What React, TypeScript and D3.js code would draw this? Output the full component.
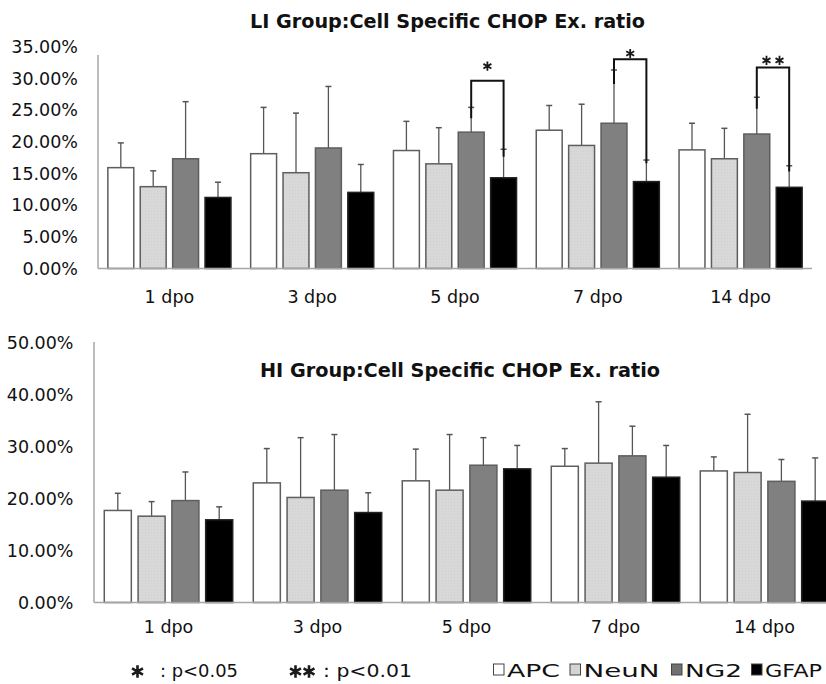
import React from "react";
import * as d3 from "d3";

// groups and series
const days = ["1 dpo", "3 dpo", "5 dpo", "7 dpo", "14 dpo"];
const cells = ["APC", "NeuN", "NG2", "GFAP"];

// LI group, mean (%) and upper SD (%)
const liAPC = [15.9, 18.1, 18.6, 21.8, 18.7];
const liNeuN = [12.9, 15.1, 16.5, 19.4, 17.3];
const liNG2 = [17.3, 19.0, 21.5, 22.9, 21.2];
const liGFAP = [11.2, 12.0, 14.3, 13.7, 12.8];
const liAPCsd = [3.9, 7.3, 4.6, 3.9, 4.2];
const liNeuNsd = [2.5, 9.4, 5.7, 6.5, 4.8];
const liNG2sd = [9.0, 9.7, 3.9, 8.4, 5.8];
const liGFAPsd = [2.4, 4.4, 4.5, 3.4, 3.4];

// HI group
const hiAPC = [17.7, 23.0, 23.4, 26.2, 25.3];
const hiNeuN = [16.6, 20.2, 21.6, 26.8, 25.0];
const hiNG2 = [19.6, 21.6, 26.4, 28.2, 23.3];
const hiGFAP = [15.9, 17.3, 25.7, 24.1, 19.5];
const hiAPCsd = [3.3, 6.6, 6.1, 3.4, 2.7];
const hiNeuNsd = [2.8, 11.5, 10.7, 11.8, 11.2];
const hiNG2sd = [5.5, 10.7, 5.3, 5.7, 4.2];
const hiGFAPsd = [2.5, 3.8, 4.5, 6.1, 8.3];

const liTicks = [0, 5, 10, 15, 20, 25, 30, 35];
const hiTicks = [0, 10, 20, 30, 40, 50];

// significance brackets on LI chart (values in %)
const liSig = [
  { day: "5 dpo", from: "NG2", to: "GFAP", top: 29.6, left: 23.7, right: 17.6, star: 31.9, n: 1 },
  { day: "7 dpo", from: "NG2", to: "GFAP", top: 33.0, left: 29.1, right: 16.6, star: 33.9, n: 1 },
  { day: "14 dpo", from: "NG2", to: "GFAP", top: 31.7, left: 25.2, right: 15.3, star: 32.8, n: 2 },
];

const fills: Record<string, string> = { APC: "#ffffff", NeuN: "url(#stipple)", NG2: "#808080", GFAP: "#000000" };
const legendFills: Record<string, string> = { APC: "#ffffff", NeuN: "#d4d4d4", NG2: "#707070", GFAP: "#000000" };

const font = "'DejaVu Sans', sans-serif";

const Star = ({ cx, cy, r, w = 1.8 }: { cx: number; cy: number; r: number; w?: number }) => {
  const arms = [90, 30, 150].map((a) => {
    const t = (a * Math.PI) / 180;
    return `M${cx - r * Math.cos(t)},${cy - r * Math.sin(t)}L${cx + r * Math.cos(t)},${cy + r * Math.sin(t)}`;
  });
  return <path d={arms.join("")} stroke="#1a1a1a" strokeWidth={w} fill="none" />;
};

function Panel({ series, sds, ticks, xRange, yRange, labelRight, xLabelY, axisTop, sig }: any) {
  const x = d3.scaleBand().domain(days).range(xRange).paddingInner(0.138).paddingOuter(0.069);
  const xi = d3.scaleBand().domain(cells).range([0, x.bandwidth()]).paddingInner(0.2);
  const y = d3.scaleLinear().domain([0, d3.max(ticks) as number]).range(yRange);
  const fmt = d3.format(".2%");
  const cx = (day: string, cell: string) => (x(day) as number) + (xi(cell) as number) + xi.bandwidth() / 2;

  return (
    <g>
      {ticks.map((t: number) => (
        <text key={t} x={labelRight} y={y(t)} dy="0.36em" textAnchor="end" fontSize={17.5} fill="#111">
          {fmt(t / 100)}
        </text>
      ))}
      <line x1={xRange[0]} x2={xRange[0]} y1={axisTop} y2={y(0)} stroke="#a6a6a6" strokeWidth={1.5} />
      {cells.map((cell, ci) =>
        days.map((day, di) => {
          const v = series[ci][di];
          const e = v + sds[ci][di];
          const bx = (x(day) as number) + (xi(cell) as number);
          const c = cx(day, cell);
          return (
            <g key={cell + day}>
              <line x1={c} x2={c} y1={y(v)} y2={y(e)} stroke="#555" strokeWidth={1.3} />
              <line x1={c - 3} x2={c + 3} y1={y(e)} y2={y(e)} stroke="#555" strokeWidth={1.5} />
              <rect x={bx} y={y(v)} width={xi.bandwidth()} height={y(0) - y(v)} fill={fills[cell]}
                stroke={cell === "GFAP" ? "#222" : "#5e5e5e"} strokeWidth={1.5} />
            </g>
          );
        })
      )}
      <line x1={xRange[0]} x2={Math.min(xRange[1], 826)} y1={y(0)} y2={y(0)} stroke="#a6a6a6" strokeWidth={1.5} />
      {days.map((d) => (
        <text key={d} x={(x(d) as number) + x.bandwidth() / 2} y={xLabelY} textAnchor="middle" fontSize={17.5} fill="#111">
          {d}
        </text>
      ))}
      {sig &&
        sig.map((s: any) => {
          const l = cx(s.day, s.from);
          const r = cx(s.day, s.to);
          const m = (l + r) / 2;
          return (
            <g key={s.day}>
              <path d={`M${l},${y(s.left)}V${y(s.top)}H${r}V${y(s.right)}`} stroke="#111" strokeWidth={2} fill="none" />
              {d3.range(s.n).map((k) => (
                <Star key={k} cx={m + (k - (s.n - 1) / 2) * 13} cy={y(s.star)} r={4.6} />
              ))}
            </g>
          );
        })}
    </g>
  );
}

export default function App() {
  return (
    <svg width={826} height={684} fontFamily={font} style={{ position: "absolute", left: 0, top: 0, background: "#fff" }}>
      <defs>
        <pattern id="stipple" width={3} height={3} patternUnits="userSpaceOnUse">
          <rect width={3} height={3} fill="#d8d8d8" />
          <rect x={1} y={1} width={1} height={1} fill="#cfcfcf" />
        </pattern>
      </defs>
      <rect width={826} height={684} fill="#fff" />

      <text x={447.5} y={28} textAnchor="middle" fontSize={19} fontWeight="bold" fill="#111" textLength={395} lengthAdjust="spacingAndGlyphs">
        LI Group:Cell Specific CHOP Ex. ratio
      </text>
      <Panel
        series={[liAPC, liNeuN, liNG2, liGFAP]}
        sds={[liAPCsd, liNeuNsd, liNG2sd, liGFAPsd]}
        ticks={liTicks}
        xRange={[98, 812]}
        yRange={[268.5, 46.5]}
        labelRight={78}
        xLabelY={303}
        axisTop={55}
        sig={liSig}
      />

      <Panel
        series={[hiAPC, hiNeuN, hiNG2, hiGFAP]}
        sds={[hiAPCsd, hiNeuNsd, hiNG2sd, hiGFAPsd]}
        ticks={hiTicks}
        xRange={[94, 839]}
        yRange={[602.5, 342.5]}
        labelRight={73.5}
        xLabelY={633}
        axisTop={342}
      />
      <text x={460} y={377} textAnchor="middle" fontSize={19} fontWeight="bold" fill="#111" textLength={400} lengthAdjust="spacingAndGlyphs">
        HI Group:Cell Specific CHOP Ex. ratio
      </text>

      {/* legend */}
      <Star cx={137.5} cy={671.5} r={6.3} w={2.6} />
      <text x={160} y={676.5} fontSize={17.5} fill="#111" textLength={78} lengthAdjust="spacingAndGlyphs">: p&lt;0.05</text>
      <Star cx={295.5} cy={671.5} r={6.3} w={2.6} />
      <Star cx={309} cy={671.5} r={6.3} w={2.6} />
      <text x={323} y={676.5} fontSize={17.5} fill="#111" textLength={89} lengthAdjust="spacingAndGlyphs">: p&lt;0.01</text>
      {cells.map((c, i) => {
        const bx = [493.5, 570, 671.5, 751.5][i];
        const tw = [53, 76, 57, 57][i];
        return (
          <g key={c}>
            <rect x={bx} y={664} width={10.5} height={11} fill={legendFills[c]} stroke="#444" strokeWidth={1} />
            <text x={bx + 13.5} y={676.5} fontSize={17.5} fill="#111" textLength={tw} lengthAdjust="spacingAndGlyphs">
              {c}
            </text>
          </g>
        );
      })}
    </svg>
  );
}
